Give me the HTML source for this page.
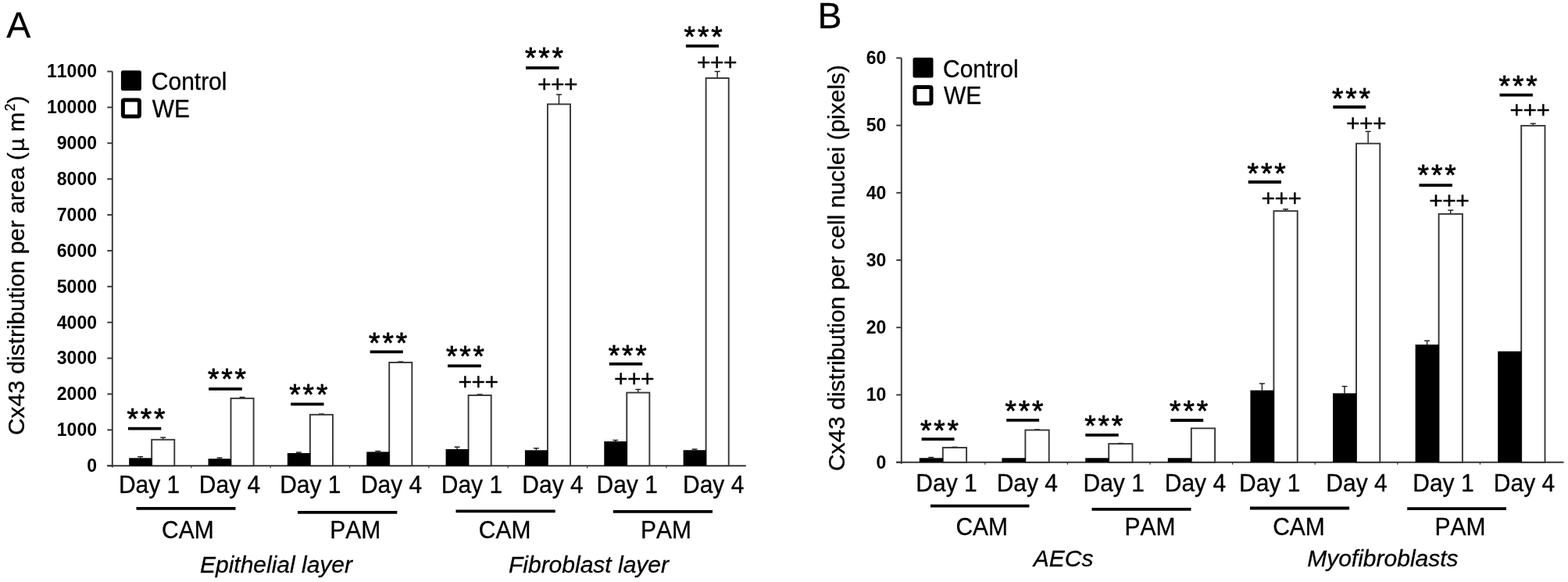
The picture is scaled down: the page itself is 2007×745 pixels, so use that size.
<!DOCTYPE html>
<html><head><meta charset="utf-8"><title>Cx43 distribution</title>
<style>
html,body{margin:0;padding:0;background:#fff;}
body{width:2007px;height:745px;overflow:hidden;}
svg{display:block;font-family:"Liberation Sans", Arial, sans-serif;fill:#000;font-kerning:none;}
text{stroke:#000;stroke-width:0.3px;stroke-linejoin:round;}
text.st{stroke-width:0.8px;}
text.pl{stroke-width:0.4px;}
text.tk{stroke-width:0px;}
</style></head>
<body>
<svg width="2007" height="745" viewBox="0 0 2007 745">
<rect x="0" y="0" width="2007" height="745" fill="#fff"/>
<text x="8.21" y="47.50" font-size="46.5">A</text>
<text x="1046.39" y="36.40" font-size="46.5">B</text>
<rect x="154.90" y="90.20" width="26.00" height="25.80" fill="#000" stroke="none" stroke-width="0" rx="2.2"/>
<rect x="157.40" y="127.90" width="21.00" height="21.00" fill="#fff" stroke="#000" stroke-width="5" rx="1.5"/>
<text transform="translate(193.80 115.00) scale(1 1.03)" font-size="30">Control</text>
<text transform="translate(194.70 150.00) scale(1 1.04)" font-size="30">WE</text>
<rect x="1168.50" y="73.70" width="26.00" height="25.80" fill="#000" stroke="none" stroke-width="0" rx="2.2"/>
<rect x="1171.00" y="111.50" width="21.00" height="21.00" fill="#fff" stroke="#000" stroke-width="5" rx="1.5"/>
<text transform="translate(1207.00 98.80) scale(1 1.03)" font-size="30">Control</text>
<text transform="translate(1207.90 133.10) scale(1 1.04)" font-size="30">WE</text>
<line x1="143.80" y1="91.50" x2="143.80" y2="598.20" stroke="#363636" stroke-width="1.9"/>
<line x1="137.30" y1="596.20" x2="954.80" y2="596.20" stroke="#363636" stroke-width="1.9"/>
<line x1="137.30" y1="596.20" x2="143.80" y2="596.20" stroke="#363636" stroke-width="1.9"/>
<text x="124.00" y="604.10" font-size="23" font-weight="bold" text-anchor="end" class="tk">0</text>
<line x1="137.30" y1="550.32" x2="143.80" y2="550.32" stroke="#363636" stroke-width="1.9"/>
<text x="124.00" y="558.22" font-size="23" font-weight="bold" text-anchor="end" class="tk">1000</text>
<line x1="137.30" y1="504.44" x2="143.80" y2="504.44" stroke="#363636" stroke-width="1.9"/>
<text x="124.00" y="512.34" font-size="23" font-weight="bold" text-anchor="end" class="tk">2000</text>
<line x1="137.30" y1="458.55" x2="143.80" y2="458.55" stroke="#363636" stroke-width="1.9"/>
<text x="124.00" y="466.45" font-size="23" font-weight="bold" text-anchor="end" class="tk">3000</text>
<line x1="137.30" y1="412.67" x2="143.80" y2="412.67" stroke="#363636" stroke-width="1.9"/>
<text x="124.00" y="420.57" font-size="23" font-weight="bold" text-anchor="end" class="tk">4000</text>
<line x1="137.30" y1="366.79" x2="143.80" y2="366.79" stroke="#363636" stroke-width="1.9"/>
<text x="124.00" y="374.69" font-size="23" font-weight="bold" text-anchor="end" class="tk">5000</text>
<line x1="137.30" y1="320.91" x2="143.80" y2="320.91" stroke="#363636" stroke-width="1.9"/>
<text x="124.00" y="328.81" font-size="23" font-weight="bold" text-anchor="end" class="tk">6000</text>
<line x1="137.30" y1="275.03" x2="143.80" y2="275.03" stroke="#363636" stroke-width="1.9"/>
<text x="124.00" y="282.93" font-size="23" font-weight="bold" text-anchor="end" class="tk">7000</text>
<line x1="137.30" y1="229.15" x2="143.80" y2="229.15" stroke="#363636" stroke-width="1.9"/>
<text x="124.00" y="237.05" font-size="23" font-weight="bold" text-anchor="end" class="tk">8000</text>
<line x1="137.30" y1="183.26" x2="143.80" y2="183.26" stroke="#363636" stroke-width="1.9"/>
<text x="124.00" y="191.16" font-size="23" font-weight="bold" text-anchor="end" class="tk">9000</text>
<line x1="137.30" y1="137.38" x2="143.80" y2="137.38" stroke="#363636" stroke-width="1.9"/>
<text x="124.00" y="145.28" font-size="23" font-weight="bold" text-anchor="end" class="tk">10000</text>
<line x1="137.30" y1="91.50" x2="143.80" y2="91.50" stroke="#363636" stroke-width="1.9"/>
<text x="124.00" y="99.40" font-size="23" font-weight="bold" text-anchor="end" class="tk">11000</text>
<line x1="244.85" y1="596.20" x2="244.85" y2="599.20" stroke="#363636" stroke-width="1.2"/>
<line x1="346.20" y1="596.20" x2="346.20" y2="599.20" stroke="#363636" stroke-width="1.2"/>
<line x1="447.55" y1="596.20" x2="447.55" y2="599.20" stroke="#363636" stroke-width="1.2"/>
<line x1="548.90" y1="596.20" x2="548.90" y2="599.20" stroke="#363636" stroke-width="1.2"/>
<line x1="650.25" y1="596.20" x2="650.25" y2="599.20" stroke="#363636" stroke-width="1.2"/>
<line x1="751.60" y1="596.20" x2="751.60" y2="599.20" stroke="#363636" stroke-width="1.2"/>
<line x1="852.95" y1="596.20" x2="852.95" y2="599.20" stroke="#363636" stroke-width="1.2"/>
<line x1="208.73" y1="560.00" x2="208.73" y2="562.80" stroke="#1a1a1a" stroke-width="1.4"/>
<line x1="205.23" y1="560.00" x2="212.23" y2="560.00" stroke="#1a1a1a" stroke-width="1.4"/>
<rect x="194.18" y="562.80" width="29.10" height="33.40" fill="#fff" stroke="#363636" stroke-width="1.9" rx="0"/>
<line x1="179.68" y1="584.60" x2="179.68" y2="586.30" stroke="#1a1a1a" stroke-width="1.4"/>
<line x1="176.18" y1="584.60" x2="183.18" y2="584.60" stroke="#1a1a1a" stroke-width="1.4"/>
<rect x="165.18" y="586.30" width="29.40" height="9.90" fill="#000" stroke="none" stroke-width="0" rx="0"/>
<line x1="310.07" y1="508.50" x2="310.07" y2="509.90" stroke="#1a1a1a" stroke-width="1.4"/>
<line x1="306.57" y1="508.50" x2="313.57" y2="508.50" stroke="#1a1a1a" stroke-width="1.4"/>
<rect x="295.52" y="509.90" width="29.10" height="86.30" fill="#fff" stroke="#363636" stroke-width="1.9" rx="0"/>
<line x1="281.02" y1="586.00" x2="281.02" y2="587.20" stroke="#1a1a1a" stroke-width="1.4"/>
<line x1="277.52" y1="586.00" x2="284.52" y2="586.00" stroke="#1a1a1a" stroke-width="1.4"/>
<rect x="266.52" y="587.20" width="29.40" height="9.00" fill="#000" stroke="none" stroke-width="0" rx="0"/>
<line x1="411.43" y1="530.00" x2="411.43" y2="530.80" stroke="#1a1a1a" stroke-width="1.4"/>
<line x1="407.93" y1="530.00" x2="414.93" y2="530.00" stroke="#1a1a1a" stroke-width="1.4"/>
<rect x="396.88" y="530.80" width="29.10" height="65.40" fill="#fff" stroke="#363636" stroke-width="1.9" rx="0"/>
<line x1="382.38" y1="579.00" x2="382.38" y2="580.00" stroke="#1a1a1a" stroke-width="1.4"/>
<line x1="378.88" y1="579.00" x2="385.88" y2="579.00" stroke="#1a1a1a" stroke-width="1.4"/>
<rect x="367.88" y="580.00" width="29.40" height="16.20" fill="#000" stroke="none" stroke-width="0" rx="0"/>
<line x1="512.77" y1="463.00" x2="512.77" y2="464.00" stroke="#1a1a1a" stroke-width="1.4"/>
<line x1="509.27" y1="463.00" x2="516.27" y2="463.00" stroke="#1a1a1a" stroke-width="1.4"/>
<rect x="498.22" y="464.00" width="29.10" height="132.20" fill="#fff" stroke="#363636" stroke-width="1.9" rx="0"/>
<line x1="483.72" y1="577.50" x2="483.72" y2="578.40" stroke="#1a1a1a" stroke-width="1.4"/>
<line x1="480.22" y1="577.50" x2="487.22" y2="577.50" stroke="#1a1a1a" stroke-width="1.4"/>
<rect x="469.22" y="578.40" width="29.40" height="17.80" fill="#000" stroke="none" stroke-width="0" rx="0"/>
<line x1="614.12" y1="504.90" x2="614.12" y2="506.00" stroke="#1a1a1a" stroke-width="1.4"/>
<line x1="610.62" y1="504.90" x2="617.62" y2="504.90" stroke="#1a1a1a" stroke-width="1.4"/>
<rect x="599.58" y="506.00" width="29.10" height="90.20" fill="#fff" stroke="#363636" stroke-width="1.9" rx="0"/>
<line x1="585.08" y1="572.20" x2="585.08" y2="575.00" stroke="#1a1a1a" stroke-width="1.4"/>
<line x1="581.58" y1="572.20" x2="588.58" y2="572.20" stroke="#1a1a1a" stroke-width="1.4"/>
<rect x="570.58" y="575.00" width="29.40" height="21.20" fill="#000" stroke="none" stroke-width="0" rx="0"/>
<line x1="715.47" y1="121.00" x2="715.47" y2="133.40" stroke="#1a1a1a" stroke-width="1.4"/>
<line x1="711.97" y1="121.00" x2="718.97" y2="121.00" stroke="#1a1a1a" stroke-width="1.4"/>
<rect x="700.92" y="133.40" width="29.10" height="462.80" fill="#fff" stroke="#363636" stroke-width="1.9" rx="0"/>
<line x1="686.42" y1="573.80" x2="686.42" y2="576.30" stroke="#1a1a1a" stroke-width="1.4"/>
<line x1="682.92" y1="573.80" x2="689.92" y2="573.80" stroke="#1a1a1a" stroke-width="1.4"/>
<rect x="671.92" y="576.30" width="29.40" height="19.90" fill="#000" stroke="none" stroke-width="0" rx="0"/>
<line x1="816.82" y1="498.50" x2="816.82" y2="502.60" stroke="#1a1a1a" stroke-width="1.4"/>
<line x1="813.32" y1="498.50" x2="820.32" y2="498.50" stroke="#1a1a1a" stroke-width="1.4"/>
<rect x="802.27" y="502.60" width="29.10" height="93.60" fill="#fff" stroke="#363636" stroke-width="1.9" rx="0"/>
<line x1="787.77" y1="563.50" x2="787.77" y2="565.00" stroke="#1a1a1a" stroke-width="1.4"/>
<line x1="784.27" y1="563.50" x2="791.27" y2="563.50" stroke="#1a1a1a" stroke-width="1.4"/>
<rect x="773.27" y="565.00" width="29.40" height="31.20" fill="#000" stroke="none" stroke-width="0" rx="0"/>
<line x1="918.17" y1="91.50" x2="918.17" y2="100.00" stroke="#1a1a1a" stroke-width="1.4"/>
<line x1="914.67" y1="91.50" x2="921.67" y2="91.50" stroke="#1a1a1a" stroke-width="1.4"/>
<rect x="903.62" y="100.00" width="29.10" height="496.20" fill="#fff" stroke="#363636" stroke-width="1.9" rx="0"/>
<line x1="889.12" y1="575.00" x2="889.12" y2="576.20" stroke="#1a1a1a" stroke-width="1.4"/>
<line x1="885.62" y1="575.00" x2="892.62" y2="575.00" stroke="#1a1a1a" stroke-width="1.4"/>
<rect x="874.62" y="576.20" width="29.40" height="20.00" fill="#000" stroke="none" stroke-width="0" rx="0"/>
<text x="162.40 179.70 197.00" y="549.17" font-size="37" class="st">***</text>
<line x1="164.00" y1="548.70" x2="206.30" y2="548.70" stroke="#000" stroke-width="3.8"/>
<text x="265.90 283.20 300.50" y="498.37" font-size="37" class="st">***</text>
<line x1="267.10" y1="497.80" x2="309.80" y2="497.80" stroke="#000" stroke-width="3.8"/>
<text x="370.30 387.60 404.90" y="518.47" font-size="37" class="st">***</text>
<line x1="372.20" y1="517.30" x2="414.50" y2="517.30" stroke="#000" stroke-width="3.8"/>
<text x="472.10 489.40 506.70" y="451.97" font-size="37" class="st">***</text>
<line x1="473.70" y1="450.30" x2="515.80" y2="450.30" stroke="#000" stroke-width="3.8"/>
<text x="571.00 588.30 605.60" y="468.67" font-size="37" class="st">***</text>
<line x1="573.00" y1="468.40" x2="615.80" y2="468.40" stroke="#000" stroke-width="3.8"/>
<text x="586.54 603.54 620.54" y="499.34" font-size="30" class="pl">+++</text>
<text x="671.90 689.20 706.50" y="87.07" font-size="37" class="st">***</text>
<line x1="673.00" y1="86.80" x2="715.50" y2="86.80" stroke="#000" stroke-width="3.8"/>
<text x="688.04 705.04 722.04" y="117.74" font-size="30" class="pl">+++</text>
<text x="778.70 796.00 813.30" y="468.37" font-size="37" class="st">***</text>
<line x1="779.80" y1="465.90" x2="822.30" y2="465.90" stroke="#000" stroke-width="3.8"/>
<text x="786.04 803.04 820.04" y="494.54" font-size="30" class="pl">+++</text>
<text x="875.60 892.90 910.20" y="60.17" font-size="37" class="st">***</text>
<line x1="877.90" y1="58.90" x2="920.00" y2="58.90" stroke="#000" stroke-width="3.8"/>
<text x="891.94 908.94 925.94" y="89.94" font-size="30" class="pl">+++</text>
<text transform="translate(151.94 631.30) scale(1 1.04)" font-size="30">Day 1</text>
<text transform="translate(254.84 631.30) scale(1 1.04)" font-size="30">Day 4</text>
<text transform="translate(358.14 631.30) scale(1 1.04)" font-size="30">Day 1</text>
<text transform="translate(461.94 631.30) scale(1 1.04)" font-size="30">Day 4</text>
<text transform="translate(564.74 631.30) scale(1 1.04)" font-size="30">Day 1</text>
<text transform="translate(668.34 631.30) scale(1 1.04)" font-size="30">Day 4</text>
<text transform="translate(763.54 631.30) scale(1 1.04)" font-size="30">Day 1</text>
<text transform="translate(874.04 631.30) scale(1 1.04)" font-size="30">Day 4</text>
<line x1="174.50" y1="650.80" x2="301.50" y2="650.80" stroke="#000" stroke-width="3.8"/>
<text transform="translate(206.98 689.00) scale(1 1.04)" font-size="30">CAM</text>
<line x1="381.00" y1="655.90" x2="508.30" y2="655.90" stroke="#000" stroke-width="3.8"/>
<text transform="translate(422.24 689.00) scale(1 1.04)" font-size="30">PAM</text>
<line x1="583.50" y1="654.40" x2="710.70" y2="654.40" stroke="#000" stroke-width="3.8"/>
<text transform="translate(612.78 689.00) scale(1 1.04)" font-size="30">CAM</text>
<line x1="784.80" y1="654.80" x2="912.00" y2="654.80" stroke="#000" stroke-width="3.8"/>
<text transform="translate(820.04 689.00) scale(1 1.04)" font-size="30">PAM</text>
<text x="353.50" y="732.90" font-size="30" font-style="italic" text-anchor="middle">Epithelial layer</text>
<text x="753.50" y="732.90" font-size="30" font-style="italic" text-anchor="middle">Fibroblast layer</text>
<line x1="1153.80" y1="74.30" x2="1153.80" y2="593.70" stroke="#363636" stroke-width="1.9"/>
<line x1="1147.30" y1="591.70" x2="2001.50" y2="591.70" stroke="#363636" stroke-width="1.9"/>
<line x1="1147.30" y1="591.70" x2="1153.80" y2="591.70" stroke="#363636" stroke-width="1.9"/>
<text x="1134.40" y="599.60" font-size="23" font-weight="bold" text-anchor="end" class="tk">0</text>
<line x1="1147.30" y1="505.47" x2="1153.80" y2="505.47" stroke="#363636" stroke-width="1.9"/>
<text x="1134.40" y="513.37" font-size="23" font-weight="bold" text-anchor="end" class="tk">10</text>
<line x1="1147.30" y1="419.23" x2="1153.80" y2="419.23" stroke="#363636" stroke-width="1.9"/>
<text x="1134.40" y="427.13" font-size="23" font-weight="bold" text-anchor="end" class="tk">20</text>
<line x1="1147.30" y1="333.00" x2="1153.80" y2="333.00" stroke="#363636" stroke-width="1.9"/>
<text x="1134.40" y="340.90" font-size="23" font-weight="bold" text-anchor="end" class="tk">30</text>
<line x1="1147.30" y1="246.77" x2="1153.80" y2="246.77" stroke="#363636" stroke-width="1.9"/>
<text x="1134.40" y="254.67" font-size="23" font-weight="bold" text-anchor="end" class="tk">40</text>
<line x1="1147.30" y1="160.53" x2="1153.80" y2="160.53" stroke="#363636" stroke-width="1.9"/>
<text x="1134.40" y="168.43" font-size="23" font-weight="bold" text-anchor="end" class="tk">50</text>
<line x1="1147.30" y1="74.30" x2="1153.80" y2="74.30" stroke="#363636" stroke-width="1.9"/>
<text x="1134.40" y="82.20" font-size="23" font-weight="bold" text-anchor="end" class="tk">60</text>
<line x1="1260.80" y1="591.70" x2="1260.80" y2="594.70" stroke="#363636" stroke-width="1.2"/>
<line x1="1366.40" y1="591.70" x2="1366.40" y2="594.70" stroke="#363636" stroke-width="1.2"/>
<line x1="1472.00" y1="591.70" x2="1472.00" y2="594.70" stroke="#363636" stroke-width="1.2"/>
<line x1="1577.60" y1="591.70" x2="1577.60" y2="594.70" stroke="#363636" stroke-width="1.2"/>
<line x1="1683.20" y1="591.70" x2="1683.20" y2="594.70" stroke="#363636" stroke-width="1.2"/>
<line x1="1788.80" y1="591.70" x2="1788.80" y2="594.70" stroke="#363636" stroke-width="1.2"/>
<line x1="1894.40" y1="591.70" x2="1894.40" y2="594.70" stroke="#363636" stroke-width="1.2"/>
<line x1="1221.95" y1="572.30" x2="1221.95" y2="573.00" stroke="#1a1a1a" stroke-width="1.4"/>
<line x1="1218.45" y1="572.30" x2="1225.45" y2="572.30" stroke="#1a1a1a" stroke-width="1.4"/>
<rect x="1206.80" y="573.00" width="30.30" height="18.70" fill="#fff" stroke="#363636" stroke-width="1.9" rx="0"/>
<line x1="1191.80" y1="585.50" x2="1191.80" y2="586.30" stroke="#1a1a1a" stroke-width="1.4"/>
<line x1="1188.30" y1="585.50" x2="1195.30" y2="585.50" stroke="#1a1a1a" stroke-width="1.4"/>
<rect x="1176.80" y="586.30" width="30.40" height="5.40" fill="#000" stroke="none" stroke-width="0" rx="0"/>
<line x1="1327.55" y1="549.80" x2="1327.55" y2="550.50" stroke="#1a1a1a" stroke-width="1.4"/>
<line x1="1324.05" y1="549.80" x2="1331.05" y2="549.80" stroke="#1a1a1a" stroke-width="1.4"/>
<rect x="1312.40" y="550.50" width="30.30" height="41.20" fill="#fff" stroke="#363636" stroke-width="1.9" rx="0"/>
<rect x="1282.40" y="586.30" width="30.40" height="5.40" fill="#000" stroke="none" stroke-width="0" rx="0"/>
<line x1="1434.35" y1="567.50" x2="1434.35" y2="568.10" stroke="#1a1a1a" stroke-width="1.4"/>
<line x1="1430.85" y1="567.50" x2="1437.85" y2="567.50" stroke="#1a1a1a" stroke-width="1.4"/>
<rect x="1419.20" y="568.10" width="30.30" height="23.60" fill="#fff" stroke="#363636" stroke-width="1.9" rx="0"/>
<rect x="1389.20" y="586.30" width="30.40" height="5.40" fill="#000" stroke="none" stroke-width="0" rx="0"/>
<rect x="1524.80" y="548.30" width="30.30" height="43.40" fill="#fff" stroke="#363636" stroke-width="1.9" rx="0"/>
<rect x="1494.80" y="586.30" width="30.40" height="5.40" fill="#000" stroke="none" stroke-width="0" rx="0"/>
<line x1="1645.55" y1="267.80" x2="1645.55" y2="270.10" stroke="#1a1a1a" stroke-width="1.4"/>
<line x1="1642.05" y1="267.80" x2="1649.05" y2="267.80" stroke="#1a1a1a" stroke-width="1.4"/>
<rect x="1630.40" y="270.10" width="30.30" height="321.60" fill="#fff" stroke="#363636" stroke-width="1.9" rx="0"/>
<line x1="1615.40" y1="491.00" x2="1615.40" y2="499.60" stroke="#1a1a1a" stroke-width="1.4"/>
<line x1="1611.90" y1="491.00" x2="1618.90" y2="491.00" stroke="#1a1a1a" stroke-width="1.4"/>
<rect x="1600.40" y="499.60" width="30.40" height="92.10" fill="#000" stroke="none" stroke-width="0" rx="0"/>
<line x1="1751.15" y1="168.30" x2="1751.15" y2="183.70" stroke="#1a1a1a" stroke-width="1.4"/>
<line x1="1747.65" y1="168.30" x2="1754.65" y2="168.30" stroke="#1a1a1a" stroke-width="1.4"/>
<rect x="1736.00" y="183.70" width="30.30" height="408.00" fill="#fff" stroke="#363636" stroke-width="1.9" rx="0"/>
<line x1="1721.00" y1="494.60" x2="1721.00" y2="503.40" stroke="#1a1a1a" stroke-width="1.4"/>
<line x1="1717.50" y1="494.60" x2="1724.50" y2="494.60" stroke="#1a1a1a" stroke-width="1.4"/>
<rect x="1706.00" y="503.40" width="30.40" height="88.30" fill="#000" stroke="none" stroke-width="0" rx="0"/>
<line x1="1856.75" y1="269.10" x2="1856.75" y2="273.90" stroke="#1a1a1a" stroke-width="1.4"/>
<line x1="1853.25" y1="269.10" x2="1860.25" y2="269.10" stroke="#1a1a1a" stroke-width="1.4"/>
<rect x="1841.60" y="273.90" width="30.30" height="317.80" fill="#fff" stroke="#363636" stroke-width="1.9" rx="0"/>
<line x1="1826.60" y1="436.20" x2="1826.60" y2="441.10" stroke="#1a1a1a" stroke-width="1.4"/>
<line x1="1823.10" y1="436.20" x2="1830.10" y2="436.20" stroke="#1a1a1a" stroke-width="1.4"/>
<rect x="1811.60" y="441.10" width="30.40" height="150.60" fill="#000" stroke="none" stroke-width="0" rx="0"/>
<line x1="1962.35" y1="158.20" x2="1962.35" y2="160.90" stroke="#1a1a1a" stroke-width="1.4"/>
<line x1="1958.85" y1="158.20" x2="1965.85" y2="158.20" stroke="#1a1a1a" stroke-width="1.4"/>
<rect x="1947.20" y="160.90" width="30.30" height="430.80" fill="#fff" stroke="#363636" stroke-width="1.9" rx="0"/>
<rect x="1917.20" y="449.70" width="30.40" height="142.00" fill="#000" stroke="none" stroke-width="0" rx="0"/>
<text x="1177.90 1195.20 1212.50" y="564.17" font-size="37" class="st">***</text>
<line x1="1179.60" y1="562.10" x2="1221.50" y2="562.10" stroke="#000" stroke-width="3.8"/>
<text x="1286.50 1303.80 1321.10" y="538.97" font-size="37" class="st">***</text>
<line x1="1288.20" y1="537.90" x2="1330.10" y2="537.90" stroke="#000" stroke-width="3.8"/>
<text x="1388.20 1405.50 1422.80" y="558.17" font-size="37" class="st">***</text>
<line x1="1389.30" y1="556.90" x2="1431.70" y2="556.90" stroke="#000" stroke-width="3.8"/>
<text x="1497.10 1514.40 1531.70" y="538.87" font-size="37" class="st">***</text>
<line x1="1498.30" y1="538.00" x2="1540.20" y2="538.00" stroke="#000" stroke-width="3.8"/>
<text x="1596.60 1613.90 1631.20" y="235.07" font-size="37" class="st">***</text>
<line x1="1597.70" y1="233.00" x2="1639.90" y2="233.00" stroke="#000" stroke-width="3.8"/>
<text x="1614.44 1631.44 1648.44" y="263.54" font-size="30" class="pl">+++</text>
<text x="1704.90 1722.20 1739.50" y="139.07" font-size="37" class="st">***</text>
<line x1="1706.30" y1="137.00" x2="1748.10" y2="137.00" stroke="#000" stroke-width="3.8"/>
<text x="1723.04 1740.04 1757.04" y="167.94" font-size="30" class="pl">+++</text>
<text x="1814.60 1831.90 1849.20" y="237.47" font-size="37" class="st">***</text>
<line x1="1816.50" y1="237.10" x2="1858.90" y2="237.10" stroke="#000" stroke-width="3.8"/>
<text x="1829.24 1846.24 1863.24" y="266.54" font-size="30" class="pl">+++</text>
<text x="1918.60 1935.90 1953.20" y="123.07" font-size="37" class="st">***</text>
<line x1="1919.50" y1="121.70" x2="1961.90" y2="121.70" stroke="#000" stroke-width="3.8"/>
<text x="1932.54 1949.54 1966.54" y="151.04" font-size="30" class="pl">+++</text>
<text transform="translate(1172.34 628.50) scale(1 1.04)" font-size="30">Day 1</text>
<text transform="translate(1275.64 628.50) scale(1 1.04)" font-size="30">Day 4</text>
<text transform="translate(1386.54 628.50) scale(1 1.04)" font-size="30">Day 1</text>
<text transform="translate(1490.74 628.50) scale(1 1.04)" font-size="30">Day 4</text>
<text transform="translate(1586.04 628.50) scale(1 1.04)" font-size="30">Day 1</text>
<text transform="translate(1697.34 628.50) scale(1 1.04)" font-size="30">Day 4</text>
<text transform="translate(1808.24 628.50) scale(1 1.04)" font-size="30">Day 1</text>
<text transform="translate(1911.84 628.50) scale(1 1.04)" font-size="30">Day 4</text>
<line x1="1191.00" y1="647.70" x2="1317.40" y2="647.70" stroke="#000" stroke-width="3.8"/>
<text transform="translate(1223.38 685.40) scale(1 1.04)" font-size="30">CAM</text>
<line x1="1397.50" y1="651.90" x2="1524.50" y2="651.90" stroke="#000" stroke-width="3.8"/>
<text transform="translate(1439.44 685.40) scale(1 1.04)" font-size="30">PAM</text>
<line x1="1599.90" y1="650.50" x2="1727.10" y2="650.50" stroke="#000" stroke-width="3.8"/>
<text transform="translate(1629.18 685.40) scale(1 1.04)" font-size="30">CAM</text>
<line x1="1801.20" y1="651.10" x2="1928.00" y2="651.10" stroke="#000" stroke-width="3.8"/>
<text transform="translate(1836.44 685.40) scale(1 1.04)" font-size="30">PAM</text>
<text x="1361.10" y="724.70" font-size="30" font-style="italic" text-anchor="middle">AECs</text>
<text x="1769.90" y="724.70" font-size="30" font-style="italic" text-anchor="middle">Myofibroblasts</text>
<text transform="translate(31.2,339.8) rotate(-90)" font-size="30" text-anchor="middle">Cx43 distribution per area (<tspan dx="1" font-family="'DejaVu Sans', sans-serif" font-size="27">µ</tspan> m<tspan dx="1.5" font-size="17.5" dy="-12.5">2</tspan><tspan dy="12.5">)</tspan></text>
<text transform="translate(1080.6,343.0) rotate(-90)" font-size="30" text-anchor="middle">Cx43 distribution per cell nuclei (pixels)</text>
</svg>
</body></html>
